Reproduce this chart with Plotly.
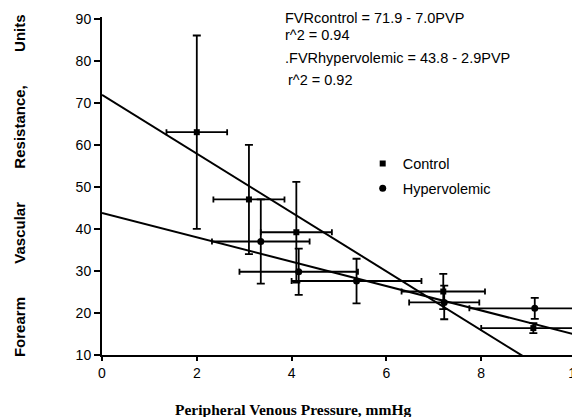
import plotly.graph_objects as go

# Control group
ctrl_x = [2.0, 3.1, 4.1, 7.2, 9.1]
ctrl_y = [63.0, 47.0, 39.2, 25.1, 16.4]
ctrl_xerr = [0.64, 0.75, 0.75, 0.88, 1.1]
ctrl_yerr = [23.0, 13.0, 12.0, 4.2, 1.2]

# Hypervolemic group
hyp_x = [3.35, 4.15, 5.37, 7.22, 9.13]
hyp_y = [37.0, 29.8, 27.6, 22.5, 21.1]
hyp_xerr = [1.03, 1.25, 1.37, 0.74, 1.38]
hyp_yerr = [10.0, 5.5, 5.3, 4.0, 2.5]

# Regression lines: FVR = a - b * PVP
ctrl_fit = [71.9, 7.0]
hyp_fit = [43.8, 2.9]
fit_x = [0, 10]

x_ticks = [0, 2, 4, 6, 8, 10]
y_ticks = [10, 20, 30, 40, 50, 60, 70, 80, 90]

font_fam = "Liberation Sans, Arial, sans-serif"

fig = go.Figure()

fig.add_trace(go.Scatter(
    x=fit_x, y=[ctrl_fit[0] - ctrl_fit[1] * v for v in fit_x],
    mode="lines", line=dict(color="black", width=2), showlegend=False, hoverinfo="skip"))
fig.add_trace(go.Scatter(
    x=fit_x, y=[hyp_fit[0] - hyp_fit[1] * v for v in fit_x],
    mode="lines", line=dict(color="black", width=2), showlegend=False, hoverinfo="skip"))

fig.add_trace(go.Scatter(
    x=ctrl_x, y=ctrl_y, mode="markers", name="Control", legendgroup="c",
    marker=dict(symbol="square", size=6, color="black"),
    error_x=dict(type="data", array=ctrl_xerr, color="black", thickness=1.8, width=3),
    error_y=dict(type="data", array=ctrl_yerr, color="black", thickness=1.8, width=4)))
fig.add_trace(go.Scatter(
    x=hyp_x, y=hyp_y, mode="markers", name="Hypervolemic", legendgroup="h",
    marker=dict(symbol="circle", size=7, color="black"),
    error_x=dict(type="data", array=hyp_xerr, color="black", thickness=1.8, width=3),
    error_y=dict(type="data", array=hyp_yerr, color="black", thickness=1.8, width=4)))

ann = [
    dict(text="FVRcontrol = 71.9 - 7.0PVP", x=0.382, y=0.996),
    dict(text="r^2 = 0.94", x=0.382, y=0.947),
    dict(text=".FVRhypervolemic = 43.8 - 2.9PVP", x=0.382, y=0.878),
    dict(text="r^2 = 0.92", x=0.389, y=0.815),
]
annotations = []
for a in ann:
    a.update(xref="paper", yref="paper", xanchor="left", yanchor="middle", showarrow=False,
             font=dict(family=font_fam, size=14.5, color="black"))
    annotations.append(a)

annotations.append(dict(
    text="Forearm        Vascular        Resistance,        Units", textangle=-90,
    xref="paper", yref="paper", x=-0.175, y=0.5, xanchor="center", yanchor="middle",
    showarrow=False, font=dict(family=font_fam, size=15, color="black", weight="bold")))
annotations.append(dict(
    text="Peripheral Venous Pressure, mmHg",
    xref="paper", yref="paper", x=0.402, y=-0.16, xanchor="center", yanchor="middle",
    showarrow=False, font=dict(family="Liberation Serif, serif", size=15.5, color="black", weight="bold")))

# The page body adds an 8px margin, so the figure is sized to fit the window.
fig.update_layout(
    width=572, height=409,
    margin=dict(l=94, r=4, t=9, b=62),
    paper_bgcolor="white", plot_bgcolor="white",
    font=dict(family=font_fam, size=14, color="black"),
    showlegend=True,
    legend=dict(x=0.55, y=0.614, xanchor="left", yanchor="top", tracegroupgap=3,
                traceorder="grouped",
                bgcolor="rgba(0,0,0,0)", font=dict(family=font_fam, size=14.5, color="black")),
    annotations=annotations,
)
fig.update_xaxes(range=[0, 10], tickvals=x_ticks, showgrid=False, zeroline=False,
                 showline=True, linecolor="black", linewidth=2, automargin=False,
                 ticks="outside", ticklen=4, tickwidth=2, tickcolor="black",
                 ticklabeloverflow="allow", tickfont=dict(size=14))
fig.update_yaxes(range=[10, 90.4], tickvals=y_ticks, showgrid=False, zeroline=False,
                 showline=True, linecolor="black", linewidth=2, automargin=False,
                 ticks="outside", ticklen=6, tickwidth=2, tickcolor="black",
                 tickfont=dict(size=14))

fig.write_html("out.html")
